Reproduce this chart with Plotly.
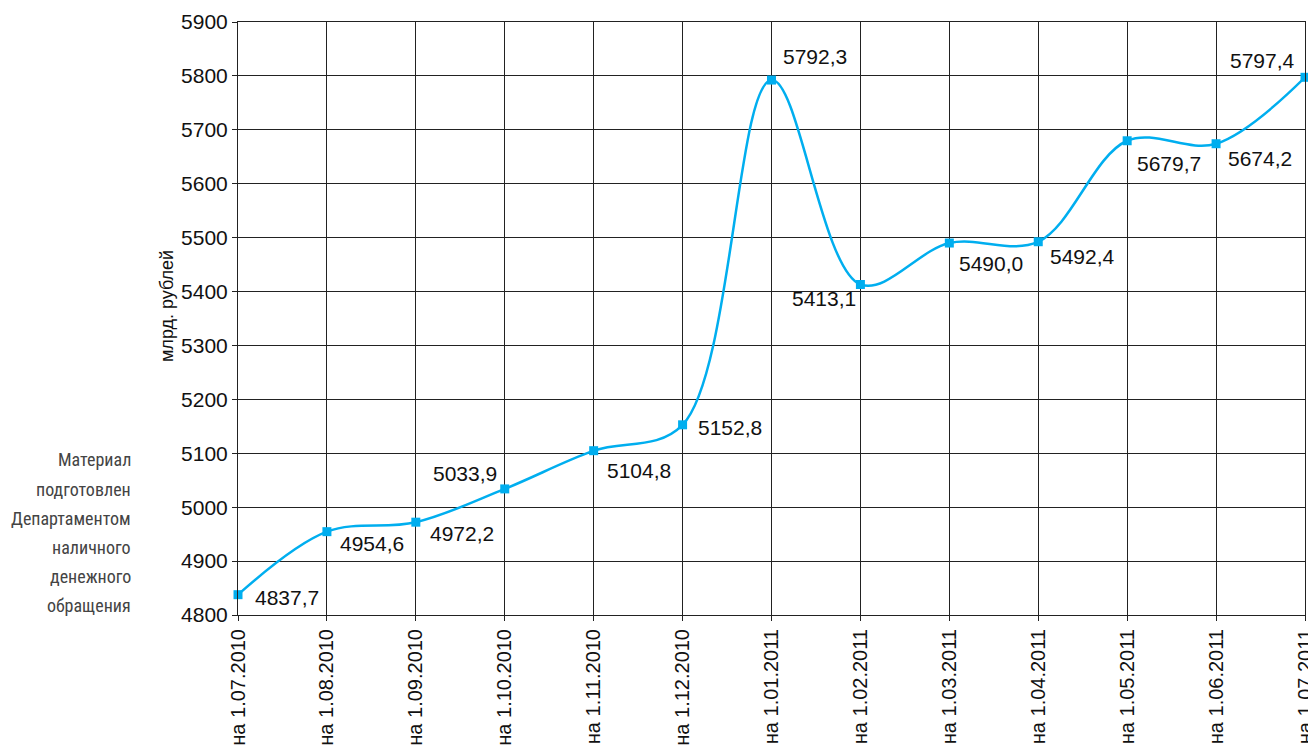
import plotly.graph_objects as go

categories = ["на 1.07.2010", "на 1.08.2010", "на 1.09.2010", "на 1.10.2010",
              "на 1.11.2010", "на 1.12.2010", "на 1.01.2011", "на 1.02.2011",
              "на 1.03.2011", "на 1.04.2011", "на 1.05.2011", "на 1.06.2011",
              "на 1.07.2011"]
values = [4837.7, 4954.6, 4972.2, 5033.9, 5104.8, 5152.8, 5792.3, 5413.1,
          5490.0, 5492.4, 5679.7, 5674.2, 5797.4]
labels = ["4837,7", "4954,6", "4972,2", "5033,9", "5104,8", "5152,8", "5792,3",
          "5413,1", "5490,0", "5492,4", "5679,7", "5674,2", "5797,4"]
y_ticks = [4800, 4900, 5000, 5100, 5200, 5300, 5400, 5500, 5600, 5700, 5800, 5900]
note_lines = ["Материал", "подготовлен", "Департаментом", "наличного",
              "денежного", "обращения"]

# label placement (pixel offsets relative to point): (xanchor, xshift, yshift)
label_pos = [("left", 15, -3), ("left", 11, -12), ("left", 12, -11), ("right", -6, 15),
             ("left", 11, -20), ("left", 13, -3), ("left", 9, 24), ("right", -2, -14),
             ("left", 8, -20), ("left", 10, -15), ("left", 8, -23), ("left", 10, -15),
             ("right", -8, 17)]

BLUE = "#00AEEF"
FONT = "Liberation Sans, Arial, Helvetica"
x = list(range(len(categories)))

# page has an 8px body margin; plot area should sit at page x 238..1305, y 22..615
PAGE_OFF = 8
W, H = 1308, 737
L, T = 238 - PAGE_OFF, 22 - PAGE_OFF
R = W - (1305 - PAGE_OFF)
B = H - (615 - PAGE_OFF)
plot_w = W - L - R
plot_h = H - T - B

fig = go.Figure()
fig.add_trace(go.Scatter(
    x=x, y=values, mode="lines+markers",
    line=dict(color=BLUE, width=2.5, shape="spline", smoothing=1.0),
    marker=dict(symbol="square", size=9, color=BLUE),
    hoverinfo="skip", showlegend=False, cliponaxis=False,
))

for i, (v, t) in enumerate(zip(values, labels)):
    xa, xs, ys = label_pos[i]
    fig.add_annotation(x=i, y=v, xref="x", yref="y", text=t, showarrow=False,
                       xanchor=xa, yanchor="middle", xshift=xs, yshift=ys,
                       font=dict(family=FONT, size=21, color="#111"))

# side note, one annotation per line (line pitch ~29 px)
for k, line in enumerate(note_lines):
    ypix = 460 + 29 * k
    fig.add_annotation(
        xref="paper", yref="paper", x=(133 - 238) / plot_w, y=(615 - ypix) / plot_h,
        xanchor="right", yanchor="middle", text=line, showarrow=False,
        font=dict(family="Liberation Sans Narrow, Roboto Condensed, Roboto", size=18, color="#444"),
    )

# y axis title
fig.add_annotation(
    xref="paper", yref="paper", x=(167 - 238) / plot_w, y=(615 - 306) / plot_h,
    xanchor="center", yanchor="middle", text="млрд. рублей", textangle=-90,
    showarrow=False, font=dict(family=FONT, size=18, color="#111"),
)

fig.update_layout(
    width=W, height=H,
    margin=dict(l=L, r=R, t=T, b=B, pad=0),
    paper_bgcolor="white", plot_bgcolor="white",
    font=dict(family=FONT, color="#111"),
    xaxis=dict(
        range=[0, 12], tickmode="array", tickvals=x, ticktext=categories,
        tickangle=-90, tickfont=dict(size=20, color="#111"), automargin=False,
        ticklabeloverflow="allow",
        showgrid=True, gridcolor="#222", gridwidth=1,
        showline=True, linecolor="#222", linewidth=1, mirror=True,
        ticks="outside", ticklen=5, tickcolor="#222", zeroline=False,
    ),
    yaxis=dict(
        range=[4800, 5900], tickmode="array", tickvals=y_ticks,
        tickfont=dict(size=21, color="#111"), automargin=False,
        ticklabeloverflow="allow",
        showgrid=True, gridcolor="#222", gridwidth=1,
        showline=True, linecolor="#222", linewidth=1, mirror=True,
        ticks="outside", ticklen=5, tickcolor="#222", zeroline=False,
    ),
)

fig.write_html("out.html")
